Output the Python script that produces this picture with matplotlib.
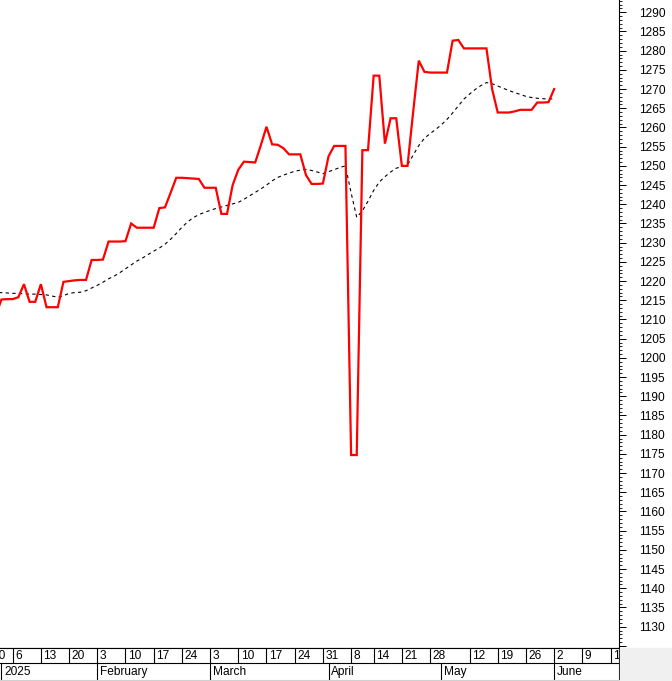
import matplotlib.pyplot as plt
from matplotlib.patches import Rectangle

# daily closes, one per trading day, starting Dec 31 2024 (day index -3)
close = [1211.0, 1215.2, 1215.3, 1215.3, 1215.8, 1219.2, 1214.6, 1214.6, 1219.2, 1213.2,
         1213.2, 1213.2, 1219.8, 1220.0, 1220.2, 1220.3, 1220.3, 1225.5, 1225.5, 1225.6,
         1230.3, 1230.3, 1230.3, 1230.4, 1235.0, 1233.9, 1233.9, 1233.9, 1233.9, 1239.0,
         1239.2, 1243.0, 1246.9, 1246.9, 1246.8, 1246.7, 1246.6, 1244.3, 1244.3, 1244.3,
         1237.5, 1237.5, 1245.0, 1249.0, 1251.1, 1251.0, 1250.9, 1255.4, 1260.2, 1255.6,
         1255.5, 1254.6, 1253.0, 1253.0, 1253.0, 1247.6, 1245.3, 1245.3, 1245.4, 1252.5,
         1255.2, 1255.2, 1255.2, 1174.7, 1174.7, 1254.1, 1254.1, 1273.5, 1273.5, 1255.8,
         1262.4, 1262.4, 1250.0, 1250.0, 1264.0, 1277.4, 1274.5, 1274.3, 1274.3, 1274.3,
         1274.3, 1282.6, 1282.8, 1280.6, 1280.6, 1280.6, 1280.6, 1280.6, 1270.0, 1263.9,
         1263.9, 1263.9, 1264.2, 1264.6, 1264.6, 1264.6, 1266.5, 1266.5, 1266.6, 1270.0]

# moving average (dotted black), same days
ma = [1217.0, 1217.0, 1216.9, 1216.8, 1216.8, 1216.7, 1216.6, 1216.6, 1216.5, 1216.4,
      1216.1, 1215.8, 1216.2, 1216.8, 1217.0, 1217.1, 1217.5, 1218.2, 1218.9, 1219.7,
      1220.6, 1221.3, 1222.2, 1223.2, 1224.2, 1225.2, 1226.0, 1226.9, 1227.8, 1228.6,
      1229.6, 1230.9, 1232.4, 1234.0, 1235.4, 1236.5, 1237.3, 1237.9, 1238.4, 1238.9,
      1239.3, 1239.7, 1240.1, 1240.5, 1241.3, 1242.2, 1243.1, 1244.0, 1245.0, 1246.1,
      1247.0, 1247.6, 1248.1, 1248.6, 1248.9, 1249.1, 1248.8, 1248.4, 1248.0, 1248.5,
      1249.0, 1249.6, 1250.0, 1243.0, 1236.6, 1238.3, 1240.8, 1243.6, 1245.8, 1247.2,
      1248.4, 1249.4, 1249.8, 1250.2, 1252.8, 1255.3, 1257.2, 1258.4, 1259.5, 1260.7,
      1262.1, 1263.8, 1265.6, 1267.4, 1268.7, 1269.9, 1270.9, 1271.7, 1271.4, 1270.8,
      1270.2, 1269.6, 1269.1, 1268.6, 1268.1, 1267.8, 1267.6, 1267.5, 1267.4, 1267.5]

days = list(range(-3, -3 + len(close)))

# bottom scale: week starts and month starts (trading-day index)
week_pos = [-4, 0, 5, 10, 15, 20, 25, 30, 35, 40, 45, 50, 55, 60, 64, 69, 74, 81, 86, 91, 96, 101, 106]
week_labels = ['30', '6', '13', '20', '3', '10', '17', '24', '3', '10', '17', '24', '31',
               '8', '14', '21', '28', '12', '19', '26', '2', '9', '16']
month_pos = [-2, 15, 35, 56, 76, 96]
month_labels = ['2025', 'February', 'March', 'April', 'May', 'June']

plt.rcParams['font.family'] = ['Liberation Sans', 'DejaVu Sans']
FS = 8.6

W, H = 672, 681
fig = plt.figure(figsize=(W / 100, H / 100), dpi=100)
x_lo, x_hi = -2.25, 107.5

### main price panel
ax = fig.add_axes([0, 33 / H, 619 / W, 648 / H])
ax.plot(days, ma, color='black', lw=0.8, ls=(0, (3, 3)))
ax.plot(days, close, color='#ff0000', lw=1.6, solid_joinstyle='miter')
ax.set_xlim(x_lo, x_hi)
ax.set_ylim(1124.45, 1293.2)

for s in ('left', 'top'):
    ax.spines[s].set_visible(False)
ax.spines['right'].set_linewidth(0.8)
ax.spines['bottom'].set_linewidth(0.8)

ax.set_xticks([])
ax.yaxis.tick_right()
yt = list(range(1125, 1291, 5))
ax.set_yticks(yt)
ax.set_yticklabels(['' if v == 1125 else str(v) for v in yt])
ax.set_yticks(range(1125, 1294), minor=True)
ax.tick_params(axis='y', which='major', length=5, width=0.7, pad=9.5, labelsize=FS)
ax.tick_params(axis='y', which='minor', length=2.2, width=0.6)

### date scale below
ax2 = fig.add_axes([0, 1 / H, 619 / W, 32 / H])
ax2.set_xlim(x_lo, x_hi)
ax2.set_ylim(0, 1)
ax2.set_xticks([])
ax2.set_yticks([])
row = 0.53
ax2.vlines(week_pos, row, 1, color='black', lw=0.8)
ax2.vlines(month_pos, 0, row, color='black', lw=0.8)
ax2.axhline(row, color='black', lw=0.8)
for p, lab in zip(week_pos, week_labels):
    ax2.text(p + 0.45, (row + 1) / 2, lab, ha='left', va='center', fontsize=FS, clip_on=True)
for p, lab in zip(month_pos, month_labels):
    ax2.text(p + 0.45, row / 2, lab, ha='left', va='center', fontsize=FS, clip_on=True)
ax2.spines['left'].set_visible(False)
ax2.spines['top'].set_linewidth(0.8)
ax2.spines['right'].set_linewidth(0.8)
ax2.spines['bottom'].set_color('#d0d0d0')

fig.patches.append(Rectangle((620 / W, 0), 52 / W, 33 / H, transform=fig.transFigure,
                             color='#f0f0f0', zorder=0))

fig.savefig('out.png', dpi=100)
